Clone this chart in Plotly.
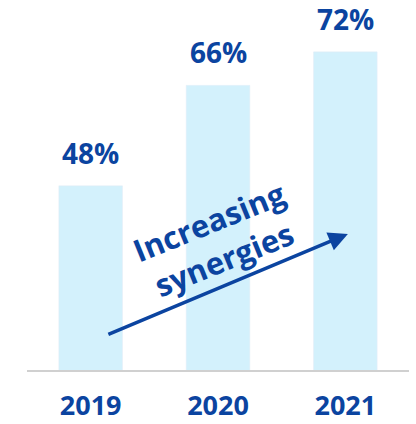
import plotly.graph_objects as go

years = ["2019", "2020", "2021"]
values = [48, 66, 72]
labels = ["48%", "66%", "72%"]

BAR = "#D3F1FC"
BLUE = "#0B44A0"
FONT = "Open Sans"

fig = go.Figure()
fig.add_trace(go.Bar(x=years, y=values, marker_color=BAR, width=0.5, hoverinfo="skip"))

for i, (v, t) in enumerate(zip(values, labels)):
    fig.add_annotation(x=i, y=v, text=f"<b>{t}</b>", showarrow=False, yanchor="bottom",
                       yshift=12, font=dict(family=FONT, size=28, color=BLUE))

# arrow
fig.add_annotation(xref="paper", yref="paper", x=0.840, y=0.378, ax=-241, ay=101,
                   text="", showarrow=True, arrowhead=2, arrowsize=1.1, arrowwidth=3.5,
                   arrowcolor=BLUE)
fig.add_annotation(xref="paper", yref="paper", x=0.497, y=0.361, text="<b>Increasing<br>synergies</b>",
                   showarrow=False, textangle=-22, font=dict(family=FONT, size=31, color=BLUE))

fig.update_layout(
    width=416, height=424, margin=dict(l=27, r=7, t=10, b=54),
    paper_bgcolor="white", plot_bgcolor="white", showlegend=False,
    xaxis=dict(type="category", showline=True, linecolor="#D0D0D0", linewidth=2, ticks="",
               range=[-0.5, 2.5], automargin=False,
               tickfont=dict(family=FONT, size=27, color=BLUE), ticklabelstandoff=11,
               showgrid=False, tickprefix="<b>", ticksuffix="</b>"),
    yaxis=dict(range=[15, 79.5], visible=False, showgrid=False, automargin=False),
)
fig.write_html("out.html")
